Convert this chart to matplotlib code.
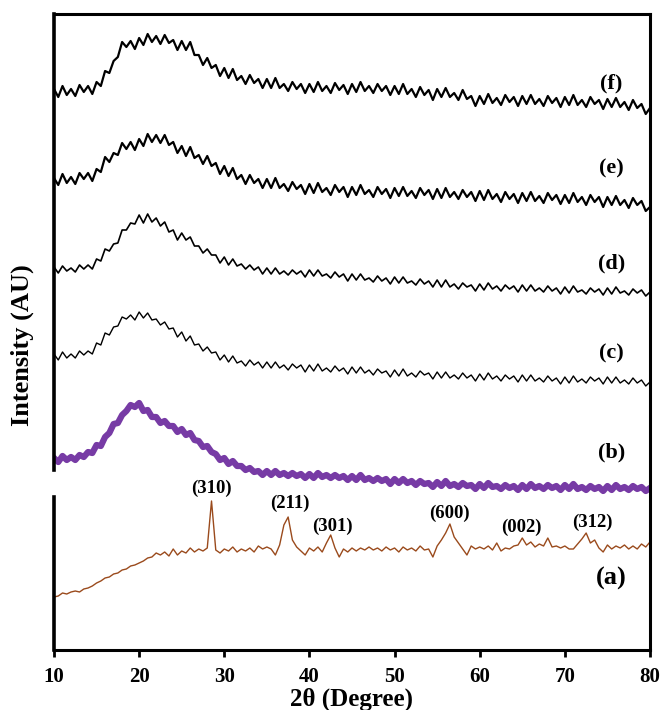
import numpy as np
import matplotlib.pyplot as plt

plt.rcParams['font.family'] = ['Liberation Serif', 'DejaVu Serif']
plt.rcParams['font.weight'] = 'bold'

# 2-theta grid, 0.5 degree steps from 10 to 80
two_theta = np.arange(10, 80.01, 0.5)

# intensities (arbitrary units, already stacked with offsets)
f_vals = [561, 553, 564, 555, 561, 554, 565, 558, 564, 556,
          568, 564, 579, 577, 589, 593, 608, 603, 609, 601,
          612, 605, 616, 608, 614, 606, 615, 607, 610, 600,
          609, 600, 608, 595, 595, 585, 592, 582, 585, 574,
          582, 572, 581, 570, 574, 566, 575, 567, 571, 562,
          571, 562, 572, 562, 566, 559, 568, 561, 566, 557,
          566, 558, 568, 559, 564, 557, 567, 560, 565, 556,
          566, 558, 568, 559, 564, 557, 566, 559, 564, 555,
          564, 556, 566, 556, 561, 553, 563, 555, 560, 550,
          561, 553, 562, 553, 557, 550, 560, 551, 554, 544,
          554, 546, 556, 547, 552, 545, 555, 548, 553, 544,
          554, 546, 555, 546, 551, 544, 554, 547, 552, 543,
          553, 545, 555, 545, 550, 543, 553, 546, 550, 541,
          551, 543, 552, 543, 548, 540, 550, 542, 546, 536,
          542]

e_vals = [472, 465, 476, 467, 473, 466, 477, 471, 477, 469,
          481, 478, 493, 488, 497, 495, 507, 501, 508, 500,
          511, 504, 516, 508, 515, 507, 515, 505, 508, 497,
          504, 494, 503, 492, 495, 486, 494, 484, 487, 476,
          484, 474, 482, 471, 475, 466, 475, 467, 471, 462,
          471, 462, 472, 462, 466, 459, 468, 461, 465, 456,
          466, 457, 467, 458, 462, 455, 465, 458, 463, 453,
          463, 455, 465, 456, 460, 453, 463, 456, 461, 452,
          462, 454, 463, 454, 459, 452, 462, 455, 460, 451,
          461, 452, 462, 453, 458, 451, 460, 453, 458, 449,
          459, 450, 460, 451, 456, 448, 458, 451, 456, 447,
          457, 449, 458, 449, 454, 447, 457, 450, 455, 446,
          455, 447, 457, 448, 453, 445, 455, 448, 453, 443,
          453, 445, 454, 445, 450, 442, 452, 445, 449, 439,
          443]

d_vals = [383, 377, 384, 379, 382, 378, 385, 381, 385, 381,
          391, 389, 401, 399, 406, 407, 420, 420, 427, 426,
          435, 427, 436, 428, 432, 424, 428, 418, 420, 410,
          417, 410, 413, 404, 404, 397, 401, 395, 395, 387,
          393, 385, 391, 384, 386, 381, 385, 380, 383, 376,
          382, 376, 382, 376, 379, 375, 380, 376, 379, 373,
          380, 374, 380, 374, 376, 372, 378, 373, 376, 369,
          376, 370, 376, 370, 372, 368, 374, 369, 372, 366,
          373, 367, 373, 367, 369, 365, 371, 366, 369, 363,
          370, 363, 370, 363, 366, 361, 367, 363, 365, 359,
          366, 360, 367, 361, 364, 359, 365, 361, 364, 358,
          365, 359, 365, 359, 362, 358, 364, 359, 362, 356,
          363, 357, 364, 358, 360, 356, 362, 358, 361, 355,
          362, 356, 363, 357, 359, 355, 361, 357, 360, 354,
          358]

c_vals = [296, 290, 298, 292, 296, 292, 299, 295, 299, 296,
          307, 305, 317, 315, 323, 324, 333, 331, 335, 330,
          338, 332, 337, 330, 331, 325, 328, 321, 322, 313,
          318, 309, 314, 305, 306, 299, 303, 297, 298, 290,
          295, 288, 294, 287, 289, 284, 290, 285, 288, 282,
          288, 282, 288, 282, 285, 280, 286, 282, 285, 278,
          285, 279, 286, 279, 282, 278, 284, 279, 282, 276,
          283, 277, 283, 277, 280, 275, 281, 277, 279, 273,
          280, 274, 281, 274, 277, 273, 279, 275, 277, 271,
          278, 272, 278, 272, 275, 271, 277, 272, 275, 269,
          276, 270, 277, 271, 274, 269, 275, 271, 274, 268,
          275, 269, 275, 269, 272, 268, 274, 269, 272, 266,
          273, 267, 274, 268, 271, 267, 273, 269, 272, 266,
          273, 267, 273, 267, 270, 266, 272, 267, 270, 264,
          268]

b_vals = [192, 188, 194, 190, 193, 190, 195, 193, 198, 197,
          205, 204, 213, 217, 226, 227, 235, 239, 245, 243,
          247, 239, 240, 233, 233, 227, 229, 224, 224, 218,
          221, 215, 217, 210, 209, 203, 204, 198, 196, 190,
          192, 186, 189, 184, 184, 180, 182, 178, 179, 175,
          179, 175, 179, 175, 177, 174, 177, 174, 176, 172,
          176, 172, 177, 173, 175, 172, 175, 172, 174, 170,
          174, 170, 175, 170, 172, 169, 172, 169, 171, 166,
          171, 167, 171, 167, 169, 165, 169, 166, 167, 163,
          168, 164, 169, 164, 166, 163, 167, 164, 165, 161,
          166, 162, 167, 163, 164, 161, 165, 162, 164, 160,
          165, 161, 166, 162, 164, 161, 165, 162, 164, 160,
          165, 161, 166, 161, 163, 160, 164, 161, 163, 159,
          164, 160, 165, 161, 163, 160, 164, 161, 163, 159,
          162]

a_vals = [53, 54, 57, 56, 58, 59, 58, 61, 62, 64,
          67, 69, 72, 73, 76, 77, 80, 81, 84, 85,
          87, 89, 92, 93, 97, 95, 98, 94, 101, 95,
          99, 97, 102, 98, 101, 99, 102, 149, 100, 97,
          101, 99, 103, 98, 101, 99, 102, 98, 104, 101,
          103, 101, 95, 105, 125, 133, 110, 103, 99, 95,
          102, 99, 103, 98, 107, 115, 102, 93, 101, 98,
          102, 99, 102, 100, 103, 100, 102, 99, 103, 100,
          102, 98, 103, 100, 102, 99, 104, 100, 101, 93,
          104, 110, 117, 126, 113, 107, 101, 95, 104, 101,
          103, 101, 104, 100, 107, 99, 102, 101, 104, 105,
          112, 105, 108, 103, 106, 104, 112, 103, 104, 102,
          104, 101, 101, 106, 111, 117, 107, 110, 102, 98,
          105, 101, 104, 102, 105, 101, 104, 101, 106, 103,
          108]

sample_labels = ['(f)', '(e)', '(d)', '(c)', '(b)', '(a)']
sample_label_y = [567, 482, 387, 297, 198, 72]

peak_labels = ['(310)', '(211)', '(301)', '(600)', '(002)', '(312)']
peak_x = [28.5, 37.75, 42.75, 56.4, 64.9, 73.25]
peak_y = [162, 147, 124, 137, 123, 128]

fig = plt.figure(figsize=(6.64, 7.10), dpi=100)
ax = fig.add_axes([54/664, 60/710, 596/664, 636/710])

ax.plot(two_theta, f_vals, color='black', lw=1.6)
ax.plot(two_theta, e_vals, color='black', lw=1.6)
ax.plot(two_theta, d_vals, color='black', lw=1.2)
ax.plot(two_theta, c_vals, color='black', lw=1.0)
ax.plot(two_theta, b_vals, color='#7030a0', lw=4.5, alpha=0.95)
ax.plot(two_theta, a_vals, color='#9a4a1c', lw=1.0)

for lab, yy in zip(sample_labels, sample_label_y):
    size = 19 if lab == '(a)' else 16
    ax.text(75.5, yy, lab, fontsize=size, fontweight='bold', ha='center', va='center')

for lab, xx, yy in zip(peak_labels, peak_x, peak_y):
    ax.text(xx, yy, lab, fontsize=13.5, fontweight='bold', ha='center', va='center')

ax.set_xlim(10, 80)
ax.set_ylim(0, 636)
ax.set_xticks(np.arange(10, 81, 10))
ax.set_yticks([])
ax.tick_params(axis='x', direction='out', length=5, width=2, pad=7, labelsize=15)
for lbl in ax.get_xticklabels():
    lbl.set_fontweight('bold')

for side in ['top', 'right', 'bottom']:
    ax.spines[side].set_linewidth(2.2)
ax.spines['left'].set_visible(False)
# left border has a small break between the (a) and (b) patterns
ax.axvline(10, ymin=0, ymax=153/636, color='black', lw=2.6, clip_on=False)
ax.axvline(10, ymin=180/636, ymax=1, color='black', lw=2.6, clip_on=False)

ax.set_xlabel('2θ (Degree)', fontsize=18, fontweight='bold', labelpad=1)
fig.text(22/664, 1 - 345/710, 'Intensity (AU)', fontsize=19, fontweight='bold',
         rotation=90, ha='center', va='center')

plt.savefig('out.png', dpi=100)
